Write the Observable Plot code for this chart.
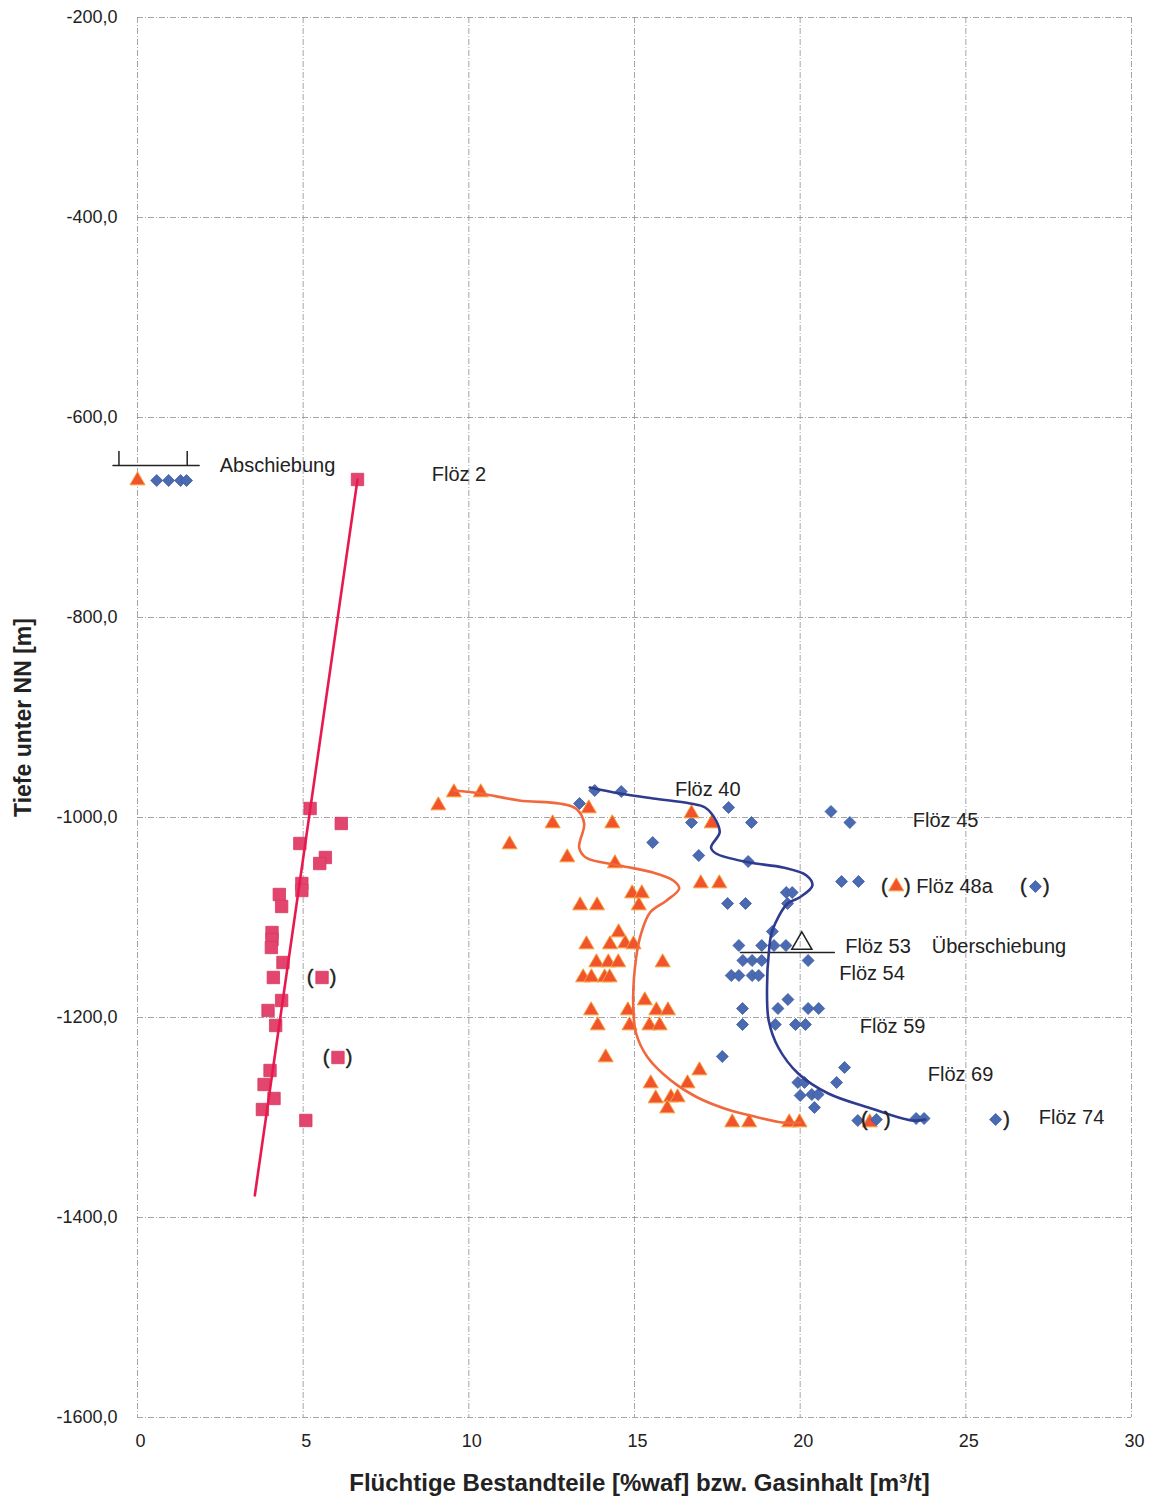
<!DOCTYPE html>
<html><head><meta charset="utf-8">
<script src="https://cdn.jsdelivr.net/npm/d3@7"></script>
<script src="https://cdn.jsdelivr.net/npm/@observablehq/plot@0.6"></script>
<style>body{margin:0;background:#fff}</style>
</head><body><div id="chart"></div>
<script>
const xTicks = [0, 5, 10, 15, 20, 25, 30];
const yTicks = [-200, -400, -600, -800, -1000, -1200, -1400, -1600];

// Flüchtige Bestandteile (squares)
const squares = [
  [6.64,-662],[5.21,-991],[6.15,-1006],[4.90,-1026],[5.67,-1040],[5.50,-1046],
  [4.96,-1066],[4.96,-1073],[4.28,-1077],[4.35,-1089],[4.06,-1115],[4.06,-1122],
  [4.04,-1130],[4.39,-1145],[4.10,-1160],[4.35,-1183],[3.94,-1193],[4.17,-1208],
  [4.00,-1253],[3.82,-1267],[4.12,-1281],[3.77,-1292],[5.08,-1303]
];
const squaresParen = [[5.57,-1160],[6.05,-1240]];
const trendLine = [[6.64,-662],[3.54,-1378]];

// triangles
const triangles = [
  [0.0,-663],
  [9.08,-988],[9.55,-975],[10.36,-975],[13.62,-991],[12.53,-1006],[14.33,-1006],
  [11.23,-1027],[12.97,-1040],[14.41,-1046],[16.72,-996],[17.33,-1006],[17.0,-1066],
  [17.56,-1066],[14.93,-1076],[15.22,-1076],[15.13,-1088],[13.36,-1088],[13.87,-1088],
  [14.52,-1115],[13.55,-1127],[14.26,-1127],[14.72,-1126],[14.97,-1127],[13.85,-1145],
  [14.21,-1145],[14.51,-1145],[15.85,-1145],[13.45,-1160],[13.7,-1160],[14.1,-1160],
  [14.25,-1160],[15.31,-1183],[13.69,-1193],[14.8,-1193],[15.66,-1193],[16.01,-1193],
  [13.89,-1208],[14.85,-1208],[15.45,-1208],[15.76,-1208],[14.13,-1240],[16.96,-1253],
  [15.49,-1266],[16.6,-1266],[15.64,-1281],[16.1,-1280],[16.3,-1280],[15.99,-1291],
  [17.95,-1305],[18.46,-1305],[19.67,-1305],[19.98,-1305]
];
const trianglesParen = [[22.9,-1069]];
const trianglesHidden = [[22.1,-1305]];

// diamonds
const diamonds = [
  [0.58,-663],[0.94,-663],[1.30,-663],[1.48,-663],
  [13.8,-973],[13.34,-986],[14.6,-974],[15.55,-1025],[16.72,-1005],[16.94,-1038],
  [17.84,-990],[18.53,-1005],[18.43,-1044],[20.93,-994],[21.5,-1005],[21.25,-1064],
  [21.76,-1064],[17.81,-1086],[18.35,-1086],[19.58,-1075],[19.76,-1075],[19.62,-1086],
  [19.16,-1114],[18.15,-1128],[18.84,-1128],[19.21,-1128],[19.57,-1128],[18.27,-1143],
  [18.55,-1143],[18.84,-1143],[20.24,-1143],[17.92,-1158],[18.15,-1158],[18.55,-1158],
  [18.75,-1158],[19.63,-1182],[18.26,-1191],[19.33,-1191],[20.24,-1191],[20.56,-1191],
  [18.26,-1207],[19.25,-1207],[19.86,-1207],[20.16,-1207],[17.65,-1239],[21.34,-1250],
  [21.1,-1265],[19.93,-1265],[20.13,-1265],[20.0,-1278],[20.35,-1277],[20.54,-1277],
  [20.43,-1290],[21.74,-1303],[23.5,-1301],[23.74,-1301]
];
const diamondsParen = [[22.3,-1302],[27.1,-1069]];
const diamondsHalfParen = [[25.9,-1302]];

const orangeCurve = [
  [9.56,-973],[10.36,-976],[11.52,-983],[12.73,-986],[13.23,-991],[13.48,-1006],
  [13.33,-1030],[13.53,-1040],[14.55,-1048],[15.56,-1055],[16.17,-1063],[16.35,-1071],
  [15.97,-1083],[15.47,-1095],[15.2,-1116],[15.05,-1140],[14.96,-1186],[15.05,-1216],
  [15.4,-1240],[16.1,-1263],[16.9,-1280],[17.9,-1293],[18.5,-1298],[19.46,-1305],[20.0,-1305]
];
const blueCurve = [
  [13.65,-970],[14.55,-976],[15.56,-981],[16.68,-986],[17.13,-990],[17.46,-1003],
  [17.57,-1015],[17.31,-1030],[17.46,-1036],[18.47,-1045],[19.48,-1050],[20.19,-1058],
  [20.37,-1068],[19.98,-1080],[19.62,-1086],[19.16,-1113],[19.06,-1133],[19.0,-1170],
  [19.05,-1203],[19.34,-1230],[19.94,-1256],[20.85,-1276],[22.06,-1290],[23.37,-1303],[23.77,-1302]
];

const abschiebungLine = [[-0.74,-648],[1.86,-648]];
const abschiebungTicks = [-0.56, 1.5];
const ueberschiebungLine = [[18.2,-1135],[21.03,-1135]];
const ueberschiebungMarker = [[20.05,-1126]];

const labels = [
  {text:"Abschiebung", x:2.48, y:-648},
  {text:"Flöz 2", x:8.88, y:-657},
  {text:"Flöz 40", x:16.22, y:-972},
  {text:"Flöz 45", x:23.4, y:-1003},
  {text:"Flöz 48a", x:23.5, y:-1069},
  {text:"Flöz 53", x:21.36, y:-1129},
  {text:"Überschiebung", x:23.97, y:-1129},
  {text:"Flöz 54", x:21.18, y:-1156},
  {text:"Flöz 59", x:21.8, y:-1209},
  {text:"Flöz 69", x:23.85, y:-1257},
  {text:"Flöz 74", x:27.2, y:-1300}
];

const xLabel = "Flüchtige Bestandteile [%waf] bzw. Gasinhalt [m³/t]";
const yLabel = "Tiefe unter NN [m]";

const font = "Liberation Sans, Arial, sans-serif";
const gridStyle = {stroke:"#8a8a8a", strokeOpacity:0.85, strokeWidth:0.9, strokeDasharray:"6,2,1,2"};
const triStyle = {symbol:"triangle", r:5.6, fill:"#f1542c", stroke:"#f7a03c", strokeWidth:1};
const diaStyle = {symbol:"diamond2", r:5.4, fill:"#4a6bb2", stroke:"#3c5aa3", strokeWidth:0.8};
const sqStyle = {symbol:"square", r:7, fill:"#e2456d", stroke:"#d8385f", strokeWidth:0.8};
const parenStyle = {fontSize:20, fill:"#222", stroke:"#222", strokeWidth:0.4};

const chart = Plot.plot({
  width: 1149,
  height: 1501,
  marginLeft: 137,
  marginRight: 18,
  marginTop: 17,
  marginBottom: 84,
  style: {fontFamily: font, background: "#fff"},
  x: {domain: [0, 30], axis: null},
  y: {domain: [-1600, -200], axis: null},
  marks: [
    Plot.gridX(xTicks, {...gridStyle}),
    Plot.gridY(yTicks, {...gridStyle}),
    Plot.axisX({ticks: xTicks, tickSize: 0, tickPadding: 17, fontSize: 18, label: null, dx: 3, fill:"#222"}),
    Plot.axisY({ticks: yTicks, tickSize: 0, tickPadding: 20, fontSize: 18, label: null, fill:"#222",
      tickFormat: d => (d < 0 ? "-" : "") + Math.abs(d).toFixed(1).replace(".", ",")}),
    Plot.text([yLabel], {frameAnchor:"left", dx:-114, rotate:-90, textAnchor:"middle", lineAnchor:"middle", fontSize:23, fontWeight:"bold", fill:"#222"}),
    Plot.text([xLabel], {frameAnchor:"bottom", dy:66, dx:5, textAnchor:"middle", lineAnchor:"middle", fontSize:24, fontWeight:"bold", fill:"#222"}),
    // Abschiebung symbol
    Plot.line(abschiebungLine, {x:d=>d[0], y:d=>d[1], stroke:"#222", strokeWidth:1.5}),
    Plot.ruleX(abschiebungTicks, {x:d=>d, y1:-648, y2:-634, stroke:"#222", strokeWidth:1.5}),
    // Überschiebung symbol
    Plot.line(ueberschiebungLine, {x:d=>d[0], y:d=>d[1], stroke:"#222", strokeWidth:1.5}),
    Plot.dot(ueberschiebungMarker, {x:d=>d[0], y:d=>d[1], symbol:"triangle", r:7.5, fill:"none", stroke:"#222", strokeWidth:1.5}),
    // markers
    Plot.dot(squares, {x:d=>d[0], y:d=>d[1], ...sqStyle}),
    Plot.dot(squaresParen, {x:d=>d[0], y:d=>d[1], ...sqStyle}),
    Plot.dot(trianglesHidden, {x:d=>d[0], y:d=>d[1], ...triStyle}),
    Plot.dot(diamonds, {x:d=>d[0], y:d=>d[1], ...diaStyle}),
    Plot.dot(diamondsParen, {x:d=>d[0], y:d=>d[1], ...diaStyle}),
    Plot.dot(diamondsHalfParen, {x:d=>d[0], y:d=>d[1], ...diaStyle}),
    Plot.dot(triangles, {x:d=>d[0], y:d=>d[1], ...triStyle}),
    Plot.dot(trianglesParen, {x:d=>d[0], y:d=>d[1], ...triStyle}),
    // lines
    Plot.line(trendLine, {x:d=>d[0], y:d=>d[1], stroke:"#e8194f", strokeWidth:2.6}),
    Plot.line(orangeCurve, {x:d=>d[0], y:d=>d[1], stroke:"#f0683c", strokeWidth:2.6, curve:"catmull-rom"}),
    Plot.line(blueCurve, {x:d=>d[0], y:d=>d[1], stroke:"#2f3b8e", strokeWidth:2.6, curve:"catmull-rom"}),
    // parentheses
    Plot.text([...squaresParen, ...trianglesParen, ...diamondsParen], {x:d=>d[0], y:d=>d[1], text:()=>"(", dx:-12, ...parenStyle}),
    Plot.text([...squaresParen, ...trianglesParen, ...diamondsParen, ...diamondsHalfParen], {x:d=>d[0], y:d=>d[1], text:()=>")", dx:11, ...parenStyle}),
    // labels
    Plot.text(labels, {x:"x", y:"y", text:"text", textAnchor:"start", fontSize:20, fill:"#222"})
  ]
});
document.getElementById("chart").appendChild(chart);
</script>
</body></html>
